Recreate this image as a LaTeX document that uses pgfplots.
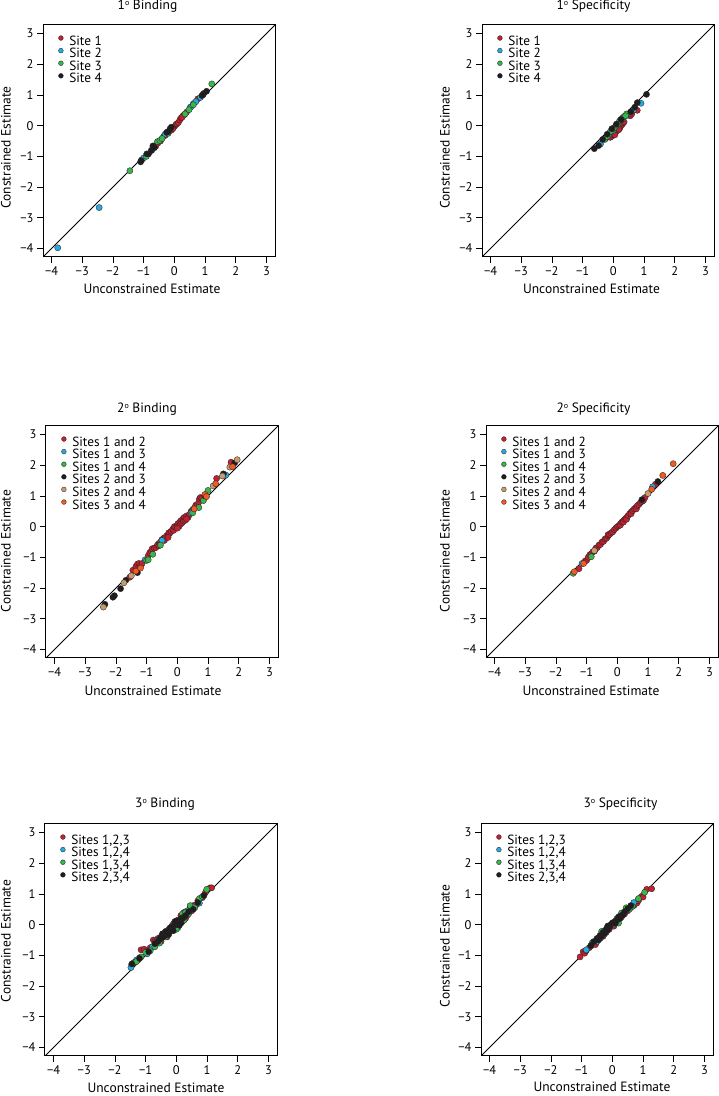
\documentclass[border=0pt]{standalone}
\usepackage{fontspec}
\setmainfont{PT Sans}
\usepackage{pgfplots}
\pgfplotsset{compat=1.18}
\definecolor{cRed}{RGB}{196,32,48}
\definecolor{cBlue}{RGB}{39,170,225}
\definecolor{cGreen}{RGB}{57,181,74}
\definecolor{cBlack}{RGB}{30,28,30}
\definecolor{cTan}{RGB}{198,156,109}
\definecolor{cOrange}{RGB}{241,90,36}
\newcommand{\lblfont}{\fontsize{13.5}{15}\selectfont}
\newcommand{\tckfont}{\fontsize{12.5}{13}\selectfont}
\newcommand{\legfont}{\fontsize{13.3}{13}\selectfont}
\newcommand{\ord}{\raisebox{0.62ex}{\fontsize{8}{8}\selectfont o}}
\pgfplotsset{
  myax/.style={
    scale only axis, width=232pt, height=232pt,
    xmin=-4.28, xmax=3.28, ymin=-4.28, ymax=3.28,
    xtick={-4,-3,-2,-1,0,1,2,3}, ytick={-4,-3,-2,-1,0,1,2,3},
    xticklabels={−4,−3,−2,−1,0,1,2,3},
    yticklabels={−4,−3,−2,−1,0,1,2,3},
    tick align=outside, xtick pos=left, ytick pos=left,
    major tick length=6pt,
    every tick/.style={black, line width=0.8pt},
    axis line style={line width=1pt},
    ticklabel style={font=\tckfont},
    legend cell align=left,
    legend style={draw=none, fill=none, at={(0.066,0.955)}, anchor=north west,
      inner sep=0pt, row sep=0pt, column sep=6pt, font=\legfont,
      nodes={inner sep=0pt, text height=9.2pt, text depth=3.2pt}},
    legend image code/.code={\draw[##1, mark size=2.4pt] plot coordinates {(0pt,4pt)};},
  },
  pt/.style={only marks, mark=*, mark size=3.1pt,
    mark options={fill=#1, draw=black!85, line width=0.35pt}},
  diag/.style={black, line width=0.9pt, no marks, forget plot},
}
\begin{document}
\begin{tikzpicture}
\path[use as bounding box] (0pt,0pt) rectangle (719pt,1096pt);

% ---------- 1o Binding ----------
\begin{axis}[myax, at={(43pt,839pt)}, anchor=south west]
\addplot[diag] coordinates {(-4.28,-4.28) (3.28,3.28)};
\addplot[pt=cRed] coordinates {(-1.06,-1.11) (-0.65,-0.68) (-0.61,-0.68) (-0.54,-0.57) (-0.45,-0.5) (-0.35,-0.35) (-0.3,-0.32) (-0.1,-0.15) (0.0,-0.03) (0.05,0.03) (0.08,0.06) (0.13,0.1) (0.18,0.19) (0.22,0.25) (0.29,0.33) (0.33,0.36) (0.4,0.44) (0.76,0.87) (0.95,1.05) (0.25,0.27) (-0.05,-0.1)};
\addlegendentry{Site 1}
\addplot[pt=cBlue] coordinates {(-3.8,-3.98) (-2.45,-2.67) (-1.0,-1.05) (-0.3,-0.28) (-0.22,-0.21) (0.52,0.6) (0.55,0.62) (0.62,0.72) (0.7,0.78) (0.85,0.92)};
\addlegendentry{Site 2}
\addplot[pt=cGreen] coordinates {(-1.45,-1.47) (-0.91,-1.0) (-0.75,-0.8) (-0.55,-0.52) (-0.47,-0.48) (-0.4,-0.42) (-0.2,-0.25) (0.35,0.38) (0.48,0.52) (0.62,0.68) (1.22,1.36)};
\addlegendentry{Site 3}
\addplot[pt=cBlack] coordinates {(-1.1,-1.18) (-1.08,-1.14) (-0.9,-0.92) (-0.84,-0.92) (-0.74,-0.81) (-0.7,-0.66) (-0.65,-0.72) (-0.25,-0.22) (-0.2,-0.2) (-0.14,-0.1) (-0.1,-0.05) (0.9,0.98) (0.94,1.01) (1.05,1.12)};
\addlegendentry{Site 4}
\end{axis}

% ---------- 1o Specificity ----------
\begin{axis}[myax, at={(482pt,839pt)}, anchor=south west]
\addplot[diag] coordinates {(-4.28,-4.28) (3.28,3.28)};
\addplot[pt=cRed] coordinates {(-0.1,-0.38) (-0.05,-0.35) (0.0,-0.3) (0.05,-0.25) (0.1,-0.18) (0.15,-0.15) (0.2,-0.1) (0.22,-0.05) (0.25,0.0) (0.3,0.05) (0.32,0.1) (0.35,0.12) (0.55,0.32) (0.6,0.38) (0.78,0.5) (0.05,-0.3) (0.18,-0.12)};
\addlegendentry{Site 1}
\addplot[pt=cBlue] coordinates {(-0.42,-0.6) (-0.25,-0.42) (-0.15,-0.3) (0.0,-0.15) (0.1,0.0) (0.3,0.2) (0.45,0.35) (0.67,0.52) (0.9,0.73)};
\addlegendentry{Site 2}
\addplot[pt=cGreen] coordinates {(-0.28,-0.45) (-0.2,-0.35) (-0.1,-0.2) (0.0,-0.1) (0.05,-0.05) (0.1,0.02) (0.15,0.05) (0.2,0.15) (0.25,0.2) (0.3,0.25) (0.35,0.3) (0.43,0.38) (0.4,0.32)};
\addlegendentry{Site 3}
\addplot[pt=cBlack] coordinates {(-0.62,-0.75) (-0.48,-0.65) (-0.35,-0.45) (-0.2,-0.28) (-0.05,-0.1) (0.1,0.05) (0.25,0.2) (0.57,0.45) (0.7,0.6) (0.78,0.75) (1.08,1.02)};
\addlegendentry{Site 4}
\end{axis}

% ---------- 2o Binding ----------
\begin{axis}[myax, at={(46pt,438pt)}, anchor=south west]
\addplot[diag] coordinates {(-4.28,-4.28) (3.28,3.28)};
\addplot[pt=cRed] coordinates {(-1.55,-1.65) (-1.45,-1.42) (-1.35,-1.3) (-1.3,-1.22) (-1.25,-1.2) (-1.2,-1.28) (-1.15,-1.2) (-0.95,-0.95) (-0.9,-0.85) (-0.85,-0.8) (-0.82,-0.72) (-0.75,-0.7) (-0.7,-0.68) (-0.65,-0.6) (-0.6,-0.55) (-0.55,-0.5) (-0.5,-0.42) (-0.45,-0.38) (-0.42,-0.45) (-0.4,-0.35) (-0.35,-0.3) (-0.3,-0.28) (-0.28,-0.2) (-0.25,-0.22) (-0.2,-0.15) (-0.15,-0.08) (-0.12,-0.12) (-0.1,0.0) (-0.05,-0.02) (0.0,0.05) (0.02,0.1) (0.05,0.0) (0.08,0.15) (0.1,0.08) (0.12,0.2) (0.15,0.12) (0.18,0.25) (0.2,0.18) (0.22,0.3) (0.25,0.2) (0.3,0.35) (0.35,0.3) (0.4,0.4) (0.45,0.5) (0.5,0.55) (0.55,0.6) (0.6,0.7) (0.65,0.72) (0.7,0.8) (0.72,0.9) (0.75,0.95) (0.8,0.92) (1.28,1.57) (1.75,2.1) (-0.6,-0.62) (-0.3,-0.35) (0.0,-0.05) (0.3,0.25)};
\addlegendentry{Sites 1 and 2}
\addplot[pt=cBlue] coordinates {(-1.05,-1.08) (-0.5,-0.45) (0.45,0.45) (1.58,1.68)};
\addlegendentry{Sites 1 and 3}
\addplot[pt=cGreen] coordinates {(-1.0,-1.1) (-0.95,-1.08) (-0.8,-0.9) (-0.55,-0.6) (0.5,0.45) (0.7,0.62) (0.85,0.85) (1.0,1.18)};
\addlegendentry{Sites 1 and 4}
\addplot[pt=cBlack] coordinates {(-2.36,-2.53) (-2.1,-2.3) (-2.05,-2.25) (-1.85,-2.02) (-1.68,-1.75) (-1.3,-1.5) (0.9,1.0) (1.5,1.72) (1.87,2.08)};
\addlegendentry{Sites 2 and 3}
\addplot[pt=cTan] coordinates {(-2.41,-2.62) (-1.74,-1.83) (-1.5,-1.6) (1.17,1.33) (1.47,1.65) (1.71,1.94) (1.95,2.18)};
\addlegendentry{Sites 2 and 4}
\addplot[pt=cOrange] coordinates {(-1.35,-1.45) (-1.2,-1.35) (0.55,0.58) (0.9,1.05) (0.95,0.98) (1.25,1.4) (1.8,1.95)};
\addlegendentry{Sites 3 and 4}
\end{axis}

% ---------- 2o Specificity ----------
\begin{axis}[myax, at={(486pt,438pt)}, anchor=south west]
\addplot[diag] coordinates {(-4.28,-4.28) (3.28,3.28)};
\addplot[pt=cRed] coordinates {(-1.25,-1.37) (-1.05,-1.12) (-1.0,-1.1) (-0.95,-1.0) (-0.9,-0.92) (-0.85,-0.88) (-0.8,-0.82) (-0.75,-0.8) (-0.72,-0.75) (-0.7,-0.7) (-0.65,-0.68) (-0.6,-0.6) (-0.55,-0.58) (-0.5,-0.5) (-0.45,-0.48) (-0.4,-0.4) (-0.35,-0.38) (-0.3,-0.3) (-0.3,-0.26) (-0.25,-0.25) (-0.2,-0.2) (-0.15,-0.17) (-0.1,-0.1) (-0.05,-0.05) (0.0,0.0) (0.05,0.03) (0.1,0.1) (0.1,0.05) (0.15,0.15) (0.2,0.2) (0.2,0.15) (0.25,0.25) (0.3,0.3) (0.3,0.24) (0.35,0.36) (0.4,0.42) (0.45,0.48) (0.45,0.42) (0.5,0.52) (0.55,0.58) (0.6,0.62) (0.62,0.58) (0.65,0.68) (0.7,0.72) (0.75,0.78) (0.8,0.82) (0.85,0.85) (0.9,0.95) (1.24,1.38)};
\addlegendentry{Sites 1 and 2}
\addplot[pt=cBlue] coordinates {(-1.15,-1.2) (1.15,1.3)};
\addlegendentry{Sites 1 and 3}
\addplot[pt=cGreen] coordinates {(-1.44,-1.52) (-0.85,-0.98)};
\addlegendentry{Sites 1 and 4}
\addplot[pt=cBlack] coordinates {(0.8,0.88) (1.32,1.47)};
\addlegendentry{Sites 2 and 3}
\addplot[pt=cTan] coordinates {(-0.75,-0.78) (1.0,1.08)};
\addlegendentry{Sites 2 and 4}
\addplot[pt=cOrange] coordinates {(-1.4,-1.47) (-1.1,-1.2) (1.12,1.22) (1.48,1.67) (1.82,2.05)};
\addlegendentry{Sites 3 and 4}
\end{axis}

% ---------- 3o Binding ----------
\begin{axis}[myax, at={(45pt,40pt)}, anchor=south west]
\addplot[diag] coordinates {(-4.28,-4.28) (3.28,3.28)};
\addplot[pt=cRed] coordinates {(-1.45,-1.3) (-1.35,-1.22) (-1.25,-1.15) (-1.2,-1.08) (-1.15,-0.82) (-1.05,-0.8) (-0.95,-0.85) (-0.85,-0.75) (-0.75,-0.5) (-0.7,-0.55) (-0.65,-0.62) (-0.6,-0.45) (-0.5,-0.55) (-0.45,-0.35) (-0.35,-0.25) (-0.3,-0.4) (-0.25,-0.3) (-0.15,-0.05) (-0.1,0.02) (0.0,0.05) (0.05,0.15) (0.15,0.3) (0.2,0.1) (0.25,0.4) (0.3,0.2) (0.35,0.3) (0.45,0.55) (0.5,0.45) (0.55,0.62) (0.65,0.65) (0.7,0.78) (0.85,0.88) (0.95,1.05) (1.1,1.2) (1.15,1.2)};
\addlegendentry{Sites 1,2,3}
\addplot[pt=cBlue] coordinates {(-1.48,-1.4) (-1.3,-1.15) (-0.95,-0.95) (-0.78,-0.72) (-0.45,-0.3) (-0.2,-0.2) (0.05,-0.1) (0.1,0.05) (0.35,0.45) (0.5,0.6) (0.75,0.7)};
\addlegendentry{Sites 1,2,4}
\addplot[pt=cGreen] coordinates {(-1.4,-1.25) (-1.3,-1.2) (-1.15,-1.05) (-1.0,-0.9) (-0.85,-0.85) (-0.7,-0.72) (-0.6,-0.5) (-0.55,-0.6) (-0.5,-0.45) (-0.35,-0.4) (-0.25,-0.15) (-0.1,-0.15) (0.0,-0.15) (0.1,0.1) (0.2,0.35) (0.25,0.15) (0.3,0.4) (0.4,0.35) (0.45,0.62) (0.6,0.55) (0.75,0.85) (0.85,0.92) (0.99,1.15)};
\addlegendentry{Sites 1,3,4}
\addplot[pt=cBlack] coordinates {(-1.45,-1.28) (-1.2,-1.1) (-0.9,-0.88) (-0.7,-0.62) (-0.6,-0.55) (-0.55,-0.48) (-0.5,-0.4) (-0.45,-0.42) (-0.45,-0.3) (-0.4,-0.3) (-0.35,-0.35) (-0.35,-0.22) (-0.3,-0.28) (-0.25,-0.2) (-0.25,-0.32) (-0.2,-0.1) (-0.15,-0.18) (-0.1,-0.05) (-0.1,-0.2) (-0.05,0.0) (-0.05,0.1) (0.0,0.0) (0.0,0.12) (0.05,0.05) (0.1,0.12) (0.1,-0.02) (0.15,0.05) (0.15,0.2) (0.2,0.2) (0.25,0.25) (0.3,0.3) (0.4,0.42) (0.55,0.5) (0.7,0.72) (0.9,0.95)};
\addlegendentry{Sites 2,3,4}
\end{axis}

% ---------- 3o Specificity ----------
\begin{axis}[myax, at={(481pt,40pt)}, anchor=south west]
\addplot[diag] coordinates {(-4.28,-4.28) (3.28,3.28)};
\addplot[pt=cRed] coordinates {(-1.05,-1.05) (-0.95,-0.88) (-0.9,-0.93) (-0.85,-0.85) (-0.75,-0.75) (-0.7,-0.7) (-0.6,-0.6) (-0.55,-0.65) (-0.5,-0.5) (-0.4,-0.45) (-0.3,-0.38) (-0.25,-0.2) (-0.2,-0.25) (-0.15,-0.05) (-0.1,-0.15) (0.0,0.0) (0.05,-0.05) (0.1,0.12) (0.2,0.15) (0.3,0.25) (0.4,0.35) (0.5,0.45) (0.6,0.55) (0.7,0.62) (0.8,0.7) (0.85,0.78) (0.95,0.92) (1.0,0.9) (1.12,1.15) (1.28,1.17)};
\addlegendentry{Sites 1,2,3}
\addplot[pt=cBlue] coordinates {(-0.85,-0.82) (-0.5,-0.55) (-0.25,-0.3) (-0.1,-0.05) (0.05,0.02) (0.25,0.28) (0.45,0.5) (0.7,0.72)};
\addlegendentry{Sites 1,2,4}
\addplot[pt=cGreen] coordinates {(-0.65,-0.58) (-0.45,-0.42) (-0.35,-0.22) (-0.3,-0.3) (-0.15,-0.12) (0.0,0.05) (0.15,0.2) (0.2,0.05) (0.3,0.38) (0.45,0.55) (0.55,0.5) (0.65,0.6) (0.85,0.85) (1.05,1.05)};
\addlegendentry{Sites 1,3,4}
\addplot[pt=cBlack] coordinates {(-0.7,-0.68) (-0.6,-0.55) (-0.5,-0.45) (-0.45,-0.5) (-0.4,-0.35) (-0.35,-0.38) (-0.3,-0.25) (-0.25,-0.28) (-0.2,-0.15) (-0.15,-0.18) (-0.15,-0.05) (-0.1,-0.08) (-0.05,0.0) (0.0,0.05) (0.05,0.08) (0.1,0.05) (0.15,0.15) (0.2,0.25) (0.25,0.2) (0.3,0.3) (0.35,0.32) (0.4,0.42) (0.5,0.52) (0.6,0.62)};
\addlegendentry{Sites 2,3,4}
\end{axis}

% ---------- titles and labels ----------
\begin{scope}[every node/.style={font=\lblfont, inner sep=0pt}]
\node at (147.5pt,1089.5pt) {1\ord{} Binding};
\node at (593.5pt,1089.5pt) {1\ord{} Specificity};
\node at (147pt,687pt) {2\ord{} Binding};
\node at (593.5pt,687pt) {2\ord{} Specificity};
\node at (165pt,292pt) {3\ord{} Binding};
\node at (620.5pt,292pt) {3\ord{} Specificity};
\node[anchor=base] at (152pt,802.7pt) {Unconstrained Estimate};
\node[anchor=base] at (591.5pt,802.7pt) {Unconstrained Estimate};
\node[anchor=base] at (153pt,400.5pt) {Unconstrained Estimate};
\node[anchor=base] at (591pt,400.5pt) {Unconstrained Estimate};
\node[anchor=base] at (156pt,3.5pt) {Unconstrained Estimate};
\node[anchor=base] at (602pt,4.5pt) {Unconstrained Estimate};
\node[anchor=base, rotate=90] at (10.5pt,948.5pt) {Constrained Estimate};
\node[anchor=base, rotate=90] at (449.5pt,948.5pt) {Constrained Estimate};
\node[anchor=base, rotate=90] at (10.5pt,545pt) {Constrained Estimate};
\node[anchor=base, rotate=90] at (449.5pt,545pt) {Constrained Estimate};
\node[anchor=base, rotate=90] at (10.5pt,155pt) {Constrained Estimate};
\node[anchor=base, rotate=90] at (449.5pt,150pt) {Constrained Estimate};
\end{scope}
\end{tikzpicture}
\end{document}
